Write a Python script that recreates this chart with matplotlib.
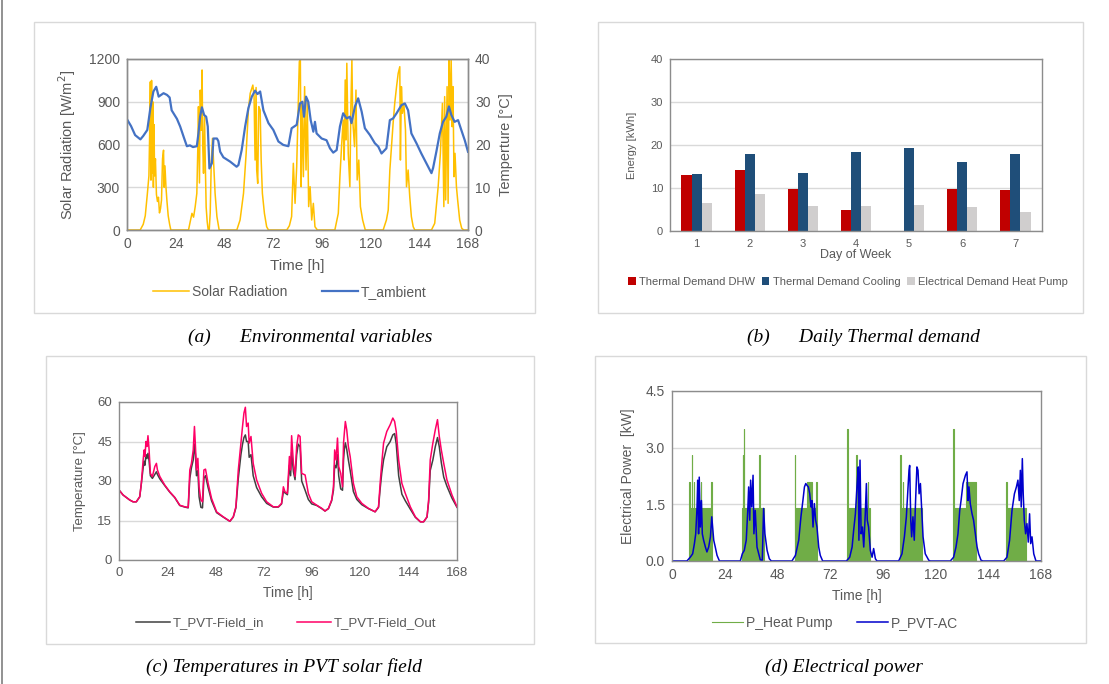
import matplotlib.pyplot as plt
import matplotlib.patches as mpatches
from matplotlib.lines import Line2D
from matplotlib.ticker import FormatStrFormatter
import numpy as np

plt.rcParams['font.family'] = ['Liberation Sans', 'DejaVu Sans']

# ---- (a) environmental variables: (time h, value)
solar = [(0, 0), (6.5, 0), (8, 40), (9, 100), (10, 250), (10.8, 380), (11.2, 700), (11.5, 1040), (11.8, 350),
         (12.1, 1050), (12.4, 400), (12.7, 900), (13.0, 300), (13.3, 740), (13.6, 380), (14.0, 500), (14.5, 250),
         (15, 200), (15.5, 230), (16, 120), (16.5, 150), (17, 210), (17.5, 500), (18, 560), (18.3, 300),
         (18.7, 450), (19.2, 300), (19.7, 200), (20.3, 100), (21, 40), (21.6, 0),
         (30.3, 0), (32, 117), (32.8, 90), (33.6, 164), (34.4, 257), (34.9, 585), (35.2, 866), (35.7, 330),
         (36.1, 982), (36.6, 700), (37.0, 1123), (37.3, 600), (37.7, 398), (38.2, 795), (38.6, 450), (39.0, 160),
         (39.5, 60), (40.0, 0), (40.5, 0), (41.0, 120), (41.5, 468), (42.1, 643), (42.6, 491), (43.4, 257),
         (44.3, 94), (45.4, 0),
         (54.1, 0), (55.7, 70), (57.4, 257), (58.7, 538), (59.8, 842), (60.7, 959), (61.5, 994), (62.0, 1017),
         (62.6, 935), (63.1, 491), (63.6, 1000), (63.9, 421), (64.4, 327), (64.9, 866), (65.6, 842), (66.1, 491),
         (66.7, 257), (67.7, 117), (68.8, 23), (69.7, 0),
         (78.7, 0), (80, 30), (81.1, 94), (81.95, 468), (82.8, 187), (83.6, 445), (84.4, 889), (84.9, 1181),
         (85.4, 1200), (85.8, 304), (86.2, 889), (86.9, 374), (87.5, 1006), (88.2, 421), (88.8, 912), (89.5, 164),
         (90.2, 304), (91, 70), (91.8, 187), (92.6, 23), (93.8, 0),
         (102.4, 0), (104.1, 117), (104.9, 374), (105.7, 585), (106.5, 772), (107, 491), (107.5, 1053),
         (107.9, 632), (108.3, 1170), (109, 538), (109.8, 304), (110.3, 866), (110.8, 1200), (111.2, 772),
         (112.1, 585), (112.8, 982), (113.4, 351), (114.2, 491), (115, 164), (116.1, 70), (117.4, 0),
         (126.2, 0), (127.8, 70), (128.7, 140), (129.5, 421), (130.3, 585), (131.1, 748), (131.9, 889),
         (132.8, 1006), (133.6, 1099), (134.4, 1146), (134.7, 491), (135.2, 1006), (135.7, 819), (136.4, 889),
         (137.2, 702), (137.7, 304), (138.5, 421), (139.3, 234), (140.1, 94), (141, 23), (141.8, 0),
         (150, 0), (151.6, 47), (153.3, 304), (154.4, 538), (155.4, 889), (156.1, 164), (156.5, 936), (157, 211),
         (157.7, 1006), (158.2, 187), (158.7, 1200), (159.2, 772), (159.7, 1200), (160.2, 725), (160.6, 1006),
         (161.1, 374), (161.6, 538), (162.3, 304), (162.9, 211), (163.9, 70), (164.9, 12), (165.9, 0), (168, 0)]

t_ambient = [(0, 25.9), (2, 24.3), (4, 22.2), (6.6, 21.2), (8, 22), (10, 23.4), (11.5, 28.5), (13, 32.4),
             (14.4, 33.5), (15.6, 31.2), (18, 32), (19.7, 31.6), (21, 31), (22, 28), (24.6, 26), (26.2, 24.2),
             (27.9, 21.8), (29.5, 19.6), (31, 19.8), (32.5, 19.4), (34.4, 19.6), (35.2, 22.6), (36, 26.5),
             (36.9, 28.7), (38, 26.9), (39, 26.5), (39.8, 24.2), (40.6, 14.4), (41.8, 15.6), (42.6, 21.4),
             (44.3, 21.4), (45, 20.8), (45.9, 18.3), (47.5, 17), (50.8, 16), (54, 14.8), (54.9, 15.2),
             (56.5, 18.7), (58.2, 24.2), (59.8, 28.5), (61.5, 31.2), (63.1, 32.6), (64.3, 31.8), (65.6, 32.4),
             (67.2, 28), (69.7, 25), (72.1, 23.4), (74.6, 20.7), (77, 19.9), (79.5, 19.6), (81.1, 23.8),
             (83.6, 24.6), (85.2, 29.6), (86.4, 30), (87.2, 26.5), (88.2, 31.2), (89.3, 30), (90.5, 25.7),
             (91.8, 23), (92.6, 25.3), (93.4, 22.6), (95.9, 21.4), (98.3, 21), (100, 19.1), (101.6, 18.1),
             (103.3, 18.7), (104.9, 24.2), (106.5, 27.3), (108.2, 26.1), (109.8, 26.5), (110.6, 25.0),
             (112.3, 28.9), (113.9, 30.8), (115.6, 27.7), (117.2, 23.8), (119.7, 22.2), (122.1, 20.3),
             (123.8, 19.5), (125.4, 17.9), (127.8, 19.1), (129.5, 25.7), (131.1, 26.1), (132.8, 27.3),
             (135.2, 29.2), (136.9, 29.6), (138.5, 28), (140.1, 22.6), (142.6, 20.3), (145, 17.9), (147.5, 15.6),
             (150, 13.3), (150.8, 14.5), (152.4, 18.3), (154.1, 22.6), (155.7, 25.3), (157.3, 26.5), (158.6, 28.9),
             (159.8, 26.9), (161.4, 25.3), (163.1, 25.7), (164.7, 23.4), (166.4, 21), (168, 18.3)]

# ---- (b) daily demand
days = [1, 2, 3, 4, 5, 6, 7]
dhw = [13.0, 14.3, 9.8, 5.0, 0.0, 9.7, 9.5]
cooling = [13.3, 17.8, 13.4, 18.4, 19.3, 16.0, 17.9]
elec_hp = [6.4, 8.5, 5.8, 5.9, 6.1, 5.6, 4.5]

# ---- (c) PVT field temperatures
pvt_t = [0, 2, 5.3, 7, 8.6, 10.3, 11.1, 12, 12.5, 12.9, 13.4, 13.9, 14.4, 14.9, 15.6, 16.6, 17.8, 18.6, 19.1,
         20.3, 22.7, 25.2, 27.7, 30.2, 32.7, 34.4, 35.2, 36, 36.9, 37.5, 38, 38.5, 39.2, 39.8, 40.7, 41.5, 42.2,
         43, 44.3, 46, 48.5, 51.8, 55.1, 56.8, 58.1, 59.3, 60.6, 61.4, 62.1, 62.8, 63.4, 64.2, 64.7, 65.6, 66.7,
         68.4, 70.9, 73.4, 76.7, 79.2, 80.8, 81.7, 82.5, 83.7, 84.7, 85.3, 85.8, 86.7, 87.5, 88.3, 89.1, 90,
         90.8, 92.5, 94.1, 95.8, 98.3, 100.8, 102.4, 104.1, 105.7, 106.6, 107.2, 107.9, 108.6, 109.2, 110.2,
         111.1, 111.6, 112, 112.5, 113.2, 114, 114.9, 116.5, 118.2, 120.7, 124, 127.3, 129, 129.8, 130.6, 131.5,
         133.1, 134.8, 136.1, 137, 137.8, 139, 140.6, 142.3, 144.8, 147.3, 149.8, 151.4, 153.1, 153.9, 154.7,
         156, 157.2, 158.3, 159.2, 160.2, 161.4, 163, 165.5, 168]
pvt_out = [26.6, 24.7, 22.8, 22.1, 22.1, 24.0, 29.1, 38, 41.8, 39.3, 45, 43.1, 47.2, 42.5, 32.9, 31.7, 35.5, 36.7,
           34.2, 31.7, 28.5, 25.9, 23.8, 20.8, 20.2, 20, 34.2, 36.7, 41.8, 50.7, 43.1, 34.2, 38.6, 27.8, 22.8,
           22.1, 34.2, 34.5, 29.1, 23.4, 18.3, 16.4, 14.7, 16.4, 20.2, 34.2, 44.4, 50.7, 55.8, 58, 50.7, 52, 44.4,
           46.9, 36.7, 30.4, 25.3, 22.1, 20.2, 20.2, 21.5, 27.8, 25.9, 25.3, 39.3, 34.2, 47.2, 36.7, 31.7, 43.1,
           47.5, 46.9, 32.9, 32.3, 25.3, 22.1, 20.8, 19.6, 18.6, 19.6, 22.8, 27.8, 41.8, 38, 46.3, 35.5, 32.9,
           27.8, 44.4, 48.2, 52.6, 49.4, 43.1, 39.3, 29.1, 24, 21.5, 19.6, 18.3, 20.2, 29.1, 36.7, 44.4, 48.8,
           51.4, 53.9, 52.6, 48.8, 38, 29.1, 25.3, 20.2, 16.4, 14.5, 14.5, 16.4, 22.8, 38, 44.4, 49.4, 53.3, 46.9,
           41.8, 36.7, 30.4, 24.7, 20.2]
pvt_in = [26.6, 24.7, 22.8, 22.1, 22.1, 24.0, 29.0, 35, 37.5, 36, 40, 38.5, 40.5, 38, 32, 31, 32.5, 33.5, 32.5,
          30.8, 28.3, 25.8, 23.7, 20.7, 20.1, 19.8, 31, 35, 38, 44, 40, 32, 34, 24, 20, 19.8, 31, 32, 27.5, 22.5,
          18, 16.3, 14.7, 16.3, 19.8, 31, 40, 44, 46.5, 47.5, 45, 45, 39, 40, 32, 27.5, 24, 21.5, 20.1, 20.1, 21.3,
          26, 25.5, 24.8, 36, 32, 41, 33.5, 30.5, 40, 44, 43, 30, 26.5, 23, 21.3, 20.7, 19.5, 18.6, 19.5, 22.5,
          26.5, 36, 35, 40, 32, 27, 26.5, 38, 42, 44.5, 42, 38, 34, 26, 23, 21, 19.5, 18.3, 20, 27, 33, 38, 43,
          45, 47.5, 48, 44, 32, 25, 22.5, 19.3, 16.2, 14.5, 14.5, 16.3, 22, 34, 38, 43, 46.5, 43, 37, 31.5, 28,
          23.5, 20]

# ---- (d) electrical power; heat pump as on/off steps (start time, level)
heat_pump = [(0, 0), (7.6, 2.1), (8.0, 0), (8.3, 1.4), (8.6, 0), (9.0, 2.8), (9.3, 0), (9.6, 1.4), (9.8, 2.1),
             (10.0, 0), (10.3, 1.4), (10.5, 0), (10.9, 1.4), (11.1, 0), (11.4, 1.4), (13.1, 2.1), (13.4, 1.4),
             (15.2, 0), (15.35, 1.4), (17.7, 2.1), (18.0, 1.4), (18.2, 0),
             (31.9, 1.4), (32.1, 2.8), (32.4, 0), (32.7, 3.5), (32.9, 1.4), (34.5, 0), (34.7, 1.4), (39.8, 2.8),
             (40.0, 1.4), (41.7, 0),
             (55.9, 2.8), (56.2, 0), (56.5, 1.4), (56.7, 0), (57.0, 1.4), (57.2, 0), (57.7, 1.4), (58.1, 0),
             (58.4, 1.4), (61.5, 2.1), (63.7, 1.4), (65.6, 2.1), (65.8, 1.4), (66.1, 0),
             (79.9, 3.5), (80.2, 1.4), (83.7, 2.8), (84.0, 1.4), (88.0, 0), (88.2, 1.4), (89.1, 2.1), (89.4, 1.4),
             (90.0, 0),
             (104.0, 2.8), (104.3, 1.4), (105.0, 2.1), (105.2, 1.4), (108.5, 0), (108.65, 1.4), (113.8, 0),
             (128.0, 3.5), (128.2, 1.4), (133.6, 0), (133.8, 2.1), (138.2, 0),
             (152.0, 2.1), (152.3, 1.4), (161.2, 0), (168, 0)]

pvt_ac = [(0, 0), (6.8, 0), (8.3, 0.1), (9.4, 0.19), (10.2, 0.46), (10.8, 0.72), (11.4, 1.43), (11.7, 2.14),
          (12.1, 0.72), (12.4, 2.22), (12.9, 0.9), (13.4, 1.6), (13.8, 0.72), (14.4, 0.55), (15.2, 0.37),
          (15.9, 0.24), (16.7, 0.37), (17.5, 0.64), (18.1, 1.17), (18.5, 0.9), (19.0, 0.55), (19.7, 0.37),
          (20.5, 0.15), (21.6, 0),
          (31.1, 0), (32.0, 0.19), (32.9, 0.28), (33.8, 0.55), (34.5, 1.34), (34.9, 1.96), (35.4, 1.08),
          (35.8, 2.14), (36.3, 1.43), (36.9, 2.27), (37.3, 0.72), (37.9, 1.34), (38.7, 0.37), (39.5, 0.19),
          (40.2, 0.03), (41.1, 0.02), (41.7, 1.39), (42.3, 0.72), (43.3, 0.28), (44.3, 0.06), (45.2, 0),
          (54.6, 0), (56.2, 0.15), (57.7, 0.55), (58.7, 1.17), (59.6, 1.6), (60.3, 1.96), (60.9, 2.05),
          (61.5, 2.0), (62.1, 1.96), (62.7, 1.78), (63.3, 1.43), (63.7, 1.6), (64.2, 0.9), (64.8, 1.52),
          (65.4, 1.08), (66.0, 0.9), (66.8, 0.37), (67.5, 0.15), (68.6, 0),
          (79.4, 0), (80.9, 0.1), (82.0, 0.37), (82.7, 0.81), (83.5, 1.25), (84.2, 1.96), (84.8, 2.49),
          (85.1, 0.55), (85.6, 2.67), (86.1, 0.72), (86.7, 0.9), (87.3, 0.37), (88.0, 1.25), (88.5, 2.05),
          (88.9, 1.08), (89.5, 0.9), (90.3, 0.28), (91.1, 0.1), (91.8, 0.33), (92.6, 0.06), (93.3, 0),
          (103.2, 0), (104.7, 0.19), (105.8, 0.64), (106.7, 1.17), (107.3, 1.78), (107.9, 2.4), (108.2, 2.53),
          (108.7, 1.08), (109.1, 0.64), (109.7, 1.17), (110.3, 0.55), (110.9, 1.6), (111.5, 2.49), (112.0, 2.4),
          (112.5, 1.78), (113.1, 2.05), (113.7, 1.34), (114.3, 0.64), (115.3, 0.19), (116.9, 0.02), (117.6, 0),
          (126.7, 0), (128.2, 0.1), (129.3, 0.37), (130.2, 0.72), (131.0, 1.34), (131.6, 1.6), (132.5, 2.05),
          (133.6, 2.27), (134.3, 2.36), (134.8, 1.6), (135.2, 1.96), (135.8, 1.52), (136.6, 1.25), (137.3, 1.08),
          (138.1, 0.72), (138.9, 0.37), (139.6, 0.19), (140.7, 0.02), (141.6, 0),
          (151.0, 0), (152.5, 0.1), (153.7, 0.55), (154.8, 1.34), (155.9, 1.78), (156.8, 1.96), (157.5, 2.14),
          (158.1, 1.6), (158.6, 2.4), (159.0, 1.43), (159.5, 2.71), (159.9, 1.78), (160.4, 1.08), (161.0, 0.72),
          (161.6, 0.99), (162.2, 0.5), (162.8, 1.25), (163.3, 0.46), (163.9, 0.64), (164.7, 0.19), (165.7, 0),
          (168, 0)]

W, H = 1109, 684
fig = plt.figure(figsize=(W / 100, H / 100), dpi=100)

def box(x0, y0, x1, y1):
    # pixel box -> figure fraction axes
    return [x0 / W, 1 - y1 / H, (x1 - x0) / W, (y1 - y0) / H]

# panel frames
for (x0, y0, x1, y1) in [(34, 22, 535, 313), (598, 22, 1083, 313), (46, 356, 534, 644), (595, 356, 1086, 643)]:
    fig.patches.append(mpatches.Rectangle((x0 / W, 1 - y1 / H), (x1 - x0) / W, (y1 - y0) / H,
                                          transform=fig.transFigure, fill=False, ec='#D9D9D9', lw=1.0))
fig.add_artist(Line2D([2 / W, 2 / W], [0, 1], transform=fig.transFigure, color='#7F7F7F', lw=1.2))

grey = '#595959'
spine_c = '#8C8C8C'
grid_c = '#D9D9D9'

def style(ax, size):
    for s in ax.spines.values():
        s.set_color(spine_c)
        s.set_linewidth(1.0)
    ax.tick_params(length=0, labelsize=size, colors=grey, pad=5)
    ax.grid(axis='y', color=grid_c, lw=1.0)
    ax.set_axisbelow(True)

hours = np.arange(0, 169, 24)

# ---------------- (a)
ax1 = fig.add_axes(box(127, 59, 468, 230))
st, sv = zip(*solar)
l1, = ax1.plot(st, sv, color='#FFC000', lw=1.1, label='Solar Radiation')
ax1.set_xlim(0, 168)
ax1.set_ylim(0, 1200)
ax1.set_xticks(hours)
ax1.set_yticks(np.arange(0, 1201, 300))
style(ax1, 10)
ax1.set_xlabel('Time [h]', fontsize=11, color=grey, labelpad=6)
ax1.set_ylabel('Solar Radiation [W/m$^2$]', fontsize=10.5, color=grey, labelpad=8)
ax1b = ax1.twinx()
at, av = zip(*t_ambient)
l2, = ax1b.plot(at, av, color='#4472C4', lw=1.6, label='T_ambient')
ax1b.set_ylim(0, 40)
ax1b.set_yticks(np.arange(0, 41, 10))
style(ax1b, 10)
ax1b.grid(False)
ax1b.set_ylabel('Temperture [°C]', fontsize=10.5, color=grey, labelpad=6)
ax1.legend([l1, l2], ['Solar Radiation', 'T_ambient'], loc='center', ncol=2, frameon=False,
           bbox_to_anchor=(290 / W, 1 - 292 / H), bbox_transform=fig.transFigure,
           fontsize=10, labelcolor=grey, handlelength=2.6, handletextpad=0.2, columnspacing=2.5)

# ---------------- (b)
ax2 = fig.add_axes(box(670, 59, 1042, 231))
x = np.array(days)
w = 0.19
ax2.bar(x - w, dhw, w, color='#C00000', label='Thermal Demand DHW')
ax2.bar(x, cooling, w, color='#1F4E79', label='Thermal Demand Cooling')
ax2.bar(x + w, elec_hp, w, color='#D0CECE', label='Electrical Demand Heat Pump')
ax2.set_xlim(0.5, 7.5)
ax2.set_ylim(0, 40)
ax2.set_xticks(days)
ax2.set_yticks(np.arange(0, 41, 10))
style(ax2, 8)
ax2.tick_params(axis='x', pad=6)
ax2.set_xlabel('Day of Week', fontsize=9, color=grey, labelpad=0)
ax2.set_ylabel('Energy [kWh]', fontsize=8, color=grey, labelpad=10)
ax2.legend(loc='center', ncol=3, frameon=False, bbox_to_anchor=(848 / W, 1 - 282 / H),
           bbox_transform=fig.transFigure, fontsize=8, labelcolor=grey, handlelength=0.7,
           handleheight=0.7, handletextpad=0.3, columnspacing=0.6)

# ---------------- (c)
ax3 = fig.add_axes(box(119, 402, 457, 560))
ax3.plot(pvt_t, pvt_in, color='#404040', lw=1.1, label='T_PVT-Field_in')
ax3.plot(pvt_t, pvt_out, color='#FF0066', lw=1.1, label='T_PVT-Field_Out')
ax3.set_xlim(0, 168)
ax3.set_ylim(0, 60)
ax3.set_xticks(hours)
ax3.set_yticks(np.arange(0, 61, 15))
style(ax3, 9.5)
ax3.set_xlabel('Time [h]', fontsize=10, color=grey, labelpad=5)
ax3.set_ylabel('Temperature [°C]', fontsize=9.5, color=grey, labelpad=8)
ax3.legend(loc='center', ncol=2, frameon=False, bbox_to_anchor=(286 / W, 1 - 623 / H),
           bbox_transform=fig.transFigure, fontsize=9.5, labelcolor=grey, handlelength=2.6,
           handletextpad=0.2, columnspacing=2.5)

# ---------------- (d)
ax4 = fig.add_axes(box(672, 391, 1041, 561))
ht, hv = zip(*heat_pump)
ax4.fill_between(ht, hv, step='post', color='#70AD47', lw=0)
ax4.plot(ht, hv, drawstyle='steps-post', color='#70AD47', lw=0.8, label='P_Heat Pump')
pt, pv = zip(*pvt_ac)
ax4.plot(pt, pv, color='#0000CC', lw=1.1, label='P_PVT-AC')
ax4.set_xlim(0, 168)
ax4.set_ylim(0, 4.5)
ax4.set_xticks(hours)
ax4.set_yticks(np.arange(0, 4.6, 1.5))
ax4.yaxis.set_major_formatter(FormatStrFormatter('%.1f'))
style(ax4, 10)
ax4.set_xlabel('Time [h]', fontsize=10, color=grey, labelpad=5)
ax4.set_ylabel('Electrical Power  [kW]', fontsize=10, color=grey, labelpad=8)
ax4.legend(loc='center', ncol=2, frameon=False, bbox_to_anchor=(835 / W, 1 - 623 / H),
           bbox_transform=fig.transFigure, fontsize=10, labelcolor=grey, handlelength=2.2,
           handletextpad=0.2, columnspacing=1.8)

# captions
cap = dict(family=['Liberation Serif', 'DejaVu Serif'], style='italic', fontsize=14,
           ha='center', va='center', color='#000000')
fig.text(310 / W, 1 - 337 / H, '(a)      Environmental variables', **cap)
fig.text(863 / W, 1 - 337 / H, '(b)      Daily Thermal demand', **cap)
fig.text(284 / W, 1 - 667 / H, '(c) Temperatures in PVT solar field', **cap)
fig.text(844 / W, 1 - 667 / H, '(d) Electrical power', **cap)

fig.savefig('out.png', dpi=100, facecolor='white')
